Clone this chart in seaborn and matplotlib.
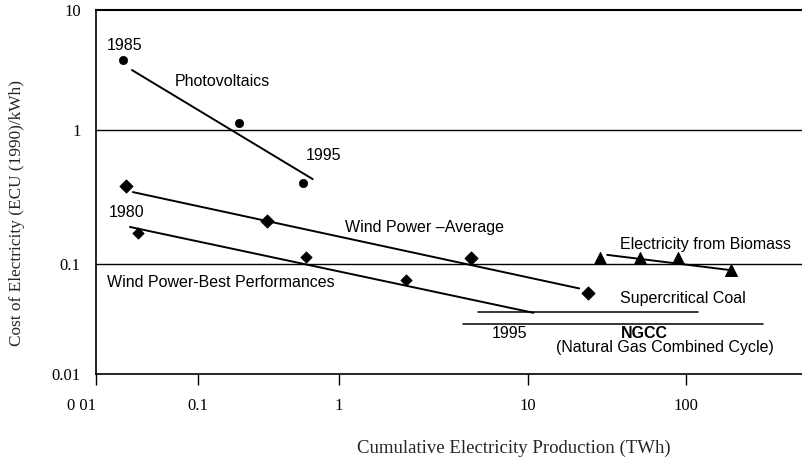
import matplotlib
matplotlib.use("Agg")
import matplotlib.pyplot as plt
import numpy as np
import seaborn as sns
from matplotlib.ticker import FixedLocator, FixedFormatter, NullLocator

# values (TWh, ECU(1990)/kWh)
pv_x = [0.0184, 0.195, 0.556]
pv_y = [3.8, 1.15, 0.40]
pv_fit_x = [0.0225, 0.65]
pv_fit_y = [3.16, 0.43]

wind_avg_x = [0.0197, 0.31, 5.0, 24.0]
wind_avg_y = [0.38, 0.21, 0.111, 0.054]
wind_avg_fit_x = [0.023, 21.0]
wind_avg_fit_y = [0.344, 0.060]

wind_best_x = [0.0257, 0.58, 2.26]
wind_best_y = [0.17, 0.113, 0.072]
wind_best_fit_x = [0.0215, 10.8]
wind_best_fit_y = [0.189, 0.036]

bio_x = [28.6, 51.0, 89.0, 193.0]
bio_y = [0.111, 0.111, 0.111, 0.088]
bio_fit_x = [31.6, 190.0]
bio_fit_y = [0.117, 0.088]

coal_x = [5.4, 119.0]
coal_y = [0.0366, 0.0366]
ngcc_x = [4.5, 307.0]
ngcc_y = [0.0285, 0.0285]

x_ticks = [0.01, 0.1, 1, 10, 100]
x_tick_labels = ["0 01", "0.1", "1", "10", "100"]
y_ticks = [0.01, 0.1, 1, 10]
y_tick_labels = ["0.01", "0.1", "1", "10"]


def piecewise_log(log_nodes, px_nodes):
    # the scanned axes have uneven decades, so map each decade on its own
    def fwd(v):
        v = np.clip(np.asarray(v, dtype=float), 1e-12, None)
        return np.interp(np.log10(v), log_nodes, px_nodes)

    def inv(p):
        return 10 ** np.interp(p, px_nodes, log_nodes)

    return fwd, inv


sns.set_theme(style="ticks")
plt.rcParams["font.family"] = ["Liberation Serif", "DejaVu Serif"]
SANS = ["Liberation Sans", "DejaVu Sans"]

fig = plt.figure(figsize=(8.02, 4.62), dpi=100)
ax = fig.add_axes([96 / 802, 88 / 462, 706 / 802, 364 / 462])

ax.set_xscale("function", functions=piecewise_log(
    [-3, -2, -1, 0, 1, 2, 3], [-6, 96, 198, 339, 528, 686, 844]))
ax.set_yscale("function", functions=piecewise_log(
    [-3, -2, -1, 0, 1, 2], [-22, 88, 198, 332, 452, 572]))

line_kw = dict(color="black", linewidth=1.4, estimator=None, sort=False,
               legend=False, ax=ax)
sns.lineplot(x=pv_fit_x, y=pv_fit_y, **line_kw)
sns.lineplot(x=wind_avg_fit_x, y=wind_avg_fit_y, **line_kw)
sns.lineplot(x=wind_best_fit_x, y=wind_best_fit_y, **line_kw)
sns.lineplot(x=bio_fit_x, y=bio_fit_y, **line_kw)
sns.lineplot(x=coal_x, y=coal_y, **{**line_kw, "linewidth": 1.1})
sns.lineplot(x=ngcc_x, y=ngcc_y, **{**line_kw, "linewidth": 1.1})

pt_kw = dict(color="black", edgecolor="black", legend=False, ax=ax, zorder=3)
sns.scatterplot(x=pv_x, y=pv_y, marker="o", s=36, **pt_kw)
sns.scatterplot(x=wind_avg_x, y=wind_avg_y, marker="D", s=46, **pt_kw)
sns.scatterplot(x=wind_best_x, y=wind_best_y, marker="D", s=34, **pt_kw)
sns.scatterplot(x=bio_x, y=bio_y, marker="^", s=75, **pt_kw)

for level in (1, 0.1):
    ax.axhline(level, color="black", linewidth=1.0, zorder=1)

ax.set_xlim(0.01, 540)
ax.set_ylim(0.01, 10)

ax.xaxis.set_major_locator(FixedLocator(x_ticks))
ax.xaxis.set_major_formatter(FixedFormatter(x_tick_labels))
ax.xaxis.set_minor_locator(NullLocator())
ax.yaxis.set_major_locator(FixedLocator(y_ticks))
ax.yaxis.set_major_formatter(FixedFormatter(y_tick_labels))
ax.yaxis.set_minor_locator(NullLocator())
ax.tick_params(axis="x", direction="out", length=8, width=1.0, pad=9,
               labelsize=12, colors="black")
ax.tick_params(axis="y", length=0, pad=11, labelsize=12, colors="black")
ax.get_xticklabels()[0].set_horizontalalignment("right")

ax.spines["right"].set_visible(False)
for side in ("top", "left", "bottom"):
    ax.spines[side].set_color("black")
ax.spines["top"].set_linewidth(1.5)
ax.spines["left"].set_linewidth(1.2)
ax.spines["bottom"].set_linewidth(1.2)
ax.set_xlabel("")
ax.set_ylabel("")

txt = dict(family=SANS, fontsize=11.5, color="black")
ax.text(0.0192, 5.1, "1985", ha="center", va="center", **txt)
ax.text(0.148, 2.56, "Photovoltaics", ha="center", va="center", **txt)
ax.text(0.77, 0.64, "1995", ha="center", va="center", **txt)
ax.text(0.0201, 0.244, "1980", ha="center", va="center", **txt)
ax.text(1.08, 0.186, "Wind Power \u2013Average", ha="left", va="center", **txt)
ax.text(0.0128, 0.0686, "Wind Power-Best Performances", ha="left",
        va="center", **txt)
ax.text(38, 0.139, "Electricity from Biomass", ha="left", va="center", **txt)
ax.text(38, 0.049, "Supercritical Coal", ha="left", va="center", **txt)
ax.text(8.0, 0.0212, "1995", ha="center", va="baseline", **txt)
ax.text(38.5, 0.0212, "NGCC", ha="left", va="baseline", weight="bold", **txt)
ax.text(73.6, 0.0158, "(Natural Gas Combined Cycle)", ha="center",
        va="baseline", **txt)

fig.text(514 / 802, 1 - 448 / 462, "Cumulative Electricity Production (TWh)",
         ha="center", va="center", fontsize=13.5)
fig.text(17 / 802, 1 - 213 / 462, "Cost of Electricity (ECU (1990)/kWh)",
         ha="center", va="center", rotation=90, fontsize=12.4)

fig.savefig("out.png", dpi=100)
